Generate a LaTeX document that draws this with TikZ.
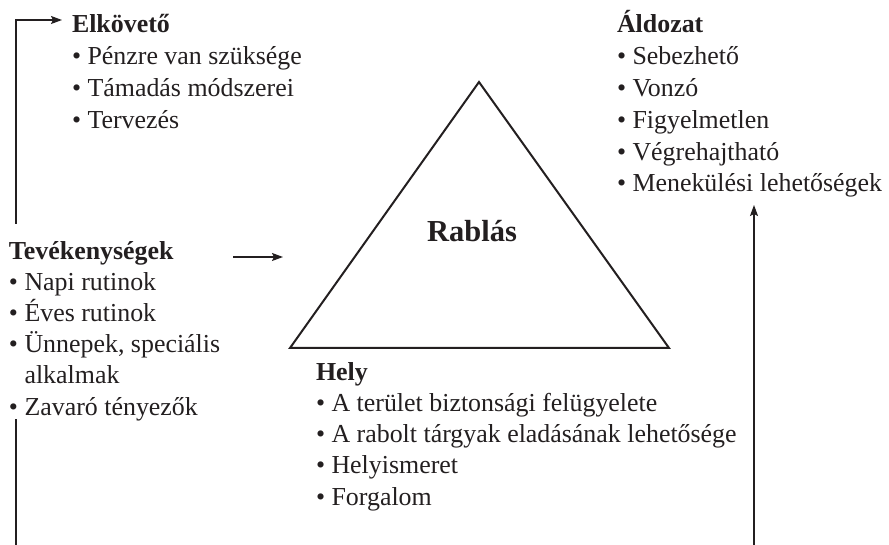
\documentclass[tikz,border=0pt]{standalone}
\usepackage{fontspec}
\setmainfont{Liberation Serif}
\usetikzlibrary{arrows.meta}
\definecolor{ink}{HTML}{231F20}
\newcommand{\topline}{\rule{0pt}{25pt}}
\begin{document}
\begin{tikzpicture}[x=1pt,y=-1pt,
  lst/.style={anchor=north west,inner sep=0pt,outer sep=0pt,align=left,text=ink},
  conn/.style={draw=ink,line width=1.2pt},
  arr/.style={conn,-{Stealth[length=11pt,width=8pt,inset=2pt]}},
  tri/.style={draw=ink,line width=2pt,line join=miter}]
\useasboundingbox (0,0) rectangle (889,545);
% triangle
\coordinate (apex) at (479,82);
\coordinate (bl) at (290,348);
\coordinate (br) at (669,348);
\draw[tri] (apex) -- (bl) -- (br) -- cycle;
\node[anchor=base west,inner sep=0pt,text=ink,font=\fontsize{30.5}{36}\selectfont\bfseries] (rablas) at (427,242) {Rablás};
% Elkovetö  (first baseline 33)
\node[lst,font=\fontsize{25.9}{31.7}\selectfont] (elk) at (72,8)
  {\topline\textbf{Elkövető}\\• Pénzre van szüksége\\• Támadás módszerei\\• Tervezés};
% Aldozat
\node[lst,font=\fontsize{25.9}{31.8}\selectfont] (ald) at (617,8)
  {\topline\textbf{Áldozat}\\• Sebezhető\\• Vonzó\\• Figyelmetlen\\• Végrehajtható\\• Menekülési lehetőségek};
% Tevekenysegek (first baseline 259)
\node[lst,font=\fontsize{25.9}{31.2}\selectfont] (tev) at (9,234)
  {\topline\textbf{Tevékenységek}\\• Napi rutinok\\• Éves rutinok\\• Ünnepek, speciális\\\hphantom{• }alkalmak\\• Zavaró tényezők};
% Hely (first baseline 380)
\node[lst,font=\fontsize{25.9}{31.25}\selectfont] (hely) at (316,355)
  {\topline\textbf{Hely}\\• A terület biztonsági felügyelete\\• A rabolt tárgyak eladásának lehetősége\\• Helyismeret\\• Forgalom};
% connectors
\coordinate (lb0) at (16,545);
\coordinate (lb1) at (16,419);
\coordinate (lt0) at (16,224);
\coordinate (lt1) at (16,20);
\coordinate (lt2) at (62,20);
\draw[conn] (lb0) -- (lb1);
\draw[arr] (lt0) -- (lt1) -- (lt2);
\coordinate (m0) at (233,257);
\coordinate (m1) at (283,257);
\draw[arr] (m0) -- (m1);
\coordinate (r0) at (754,545);
\coordinate (r1) at (754,205);
\draw[arr] (r0) -- (r1);
\end{tikzpicture}
\end{document}
